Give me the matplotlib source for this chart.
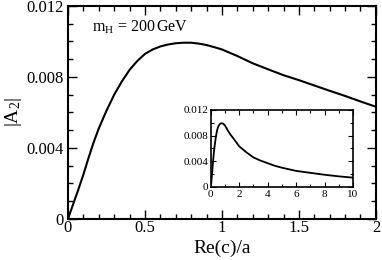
import matplotlib
matplotlib.use("Agg")
import matplotlib.pyplot as plt
from matplotlib.ticker import MultipleLocator

plt.rcParams['font.family'] = ['Liberation Serif', 'DejaVu Serif']
plt.rcParams['mathtext.fontset'] = 'custom'
plt.rcParams['mathtext.rm'] = 'Liberation Serif'
plt.rcParams['mathtext.it'] = 'Liberation Serif:italic'

x = [0, 0.033, 0.067, 0.1, 0.132, 0.166, 0.2, 0.25, 0.3, 0.35, 0.4, 0.45, 0.5, 0.55,
     0.6, 0.65, 0.7, 0.75, 0.8, 0.85, 0.9, 0.95, 1.0, 1.1, 1.2, 1.3,
     1.4, 1.5, 1.6, 1.7, 1.8, 1.9, 2.0, 2.5, 3, 3.5, 4, 4.5, 5, 6, 7, 8, 9, 10]
y = [0, 0.00082, 0.00165, 0.0025, 0.0034, 0.0043, 0.0051, 0.0061, 0.0070, 0.00775,
     0.0084, 0.0089, 0.0093, 0.00955, 0.00972, 0.00983, 0.0099, 0.00993, 0.00993,
     0.00988, 0.0098, 0.00968, 0.00955, 0.00918, 0.00877, 0.00843, 0.0081, 0.00782,
     0.00752, 0.00722, 0.00693, 0.00662, 0.00632, 0.0054, 0.0046, 0.0041, 0.0037,
     0.0033, 0.0030, 0.0025, 0.0022, 0.0019, 0.00165, 0.00145]

fig = plt.figure(figsize=(3.82, 2.6), dpi=100)
ax = fig.add_axes([0.178, 0.158, 0.806, 0.819])
ax.plot(x, y, color='black', lw=1.5)
ax.set_xlim(0, 2)
ax.set_ylim(0, 0.012)
ax.xaxis.set_minor_locator(MultipleLocator(0.1))
ax.yaxis.set_minor_locator(MultipleLocator(0.001))
ax.set_xticks([0, 0.5, 1, 1.5, 2])
ax.set_xticklabels(['0', '0.5', '1', '1.5', '2'])
ax.set_yticks([0, 0.004, 0.008, 0.012])
ax.set_yticklabels(['0', '0.004', '0.008', '0.012'])
ax.tick_params(which='both', direction='in', top=True, right=True, labelsize=12, width=1.0)
ax.tick_params(which='major', length=6.5)
ax.tick_params(which='minor', length=3.5)
ax.tick_params(axis='x', pad=1)
ax.tick_params(axis='y', pad=3)
for s in ax.spines.values():
    s.set_linewidth(1.5)
ax.set_xlabel('Re(c)/a', fontsize=14, labelpad=2.5)
ax.set_ylabel(r'$|\mathrm{A}_2|$', fontsize=14, labelpad=2)
ax.text(0.156, 0.0108, r'$\mathrm{m}_\mathrm{H}$ = 200$\,$GeV', fontsize=11.5, va='center', ha='left')

ins = fig.add_axes([0.552, 0.281, 0.372, 0.296])
ins.plot(x, y, color='black', lw=1.3)
ins.set_xlim(0, 10)
ins.set_ylim(0, 0.012)
ins.xaxis.set_minor_locator(MultipleLocator(1))
ins.yaxis.set_minor_locator(MultipleLocator(0.002))
ins.set_xticks([0, 2, 4, 6, 8, 10])
ins.set_xticklabels(['0', '2', '4', '6', '8', '10'])
ins.set_yticks([0, 0.004, 0.008, 0.012])
ins.set_yticklabels(['0', '0.004', '0.008', '0.012'])
ins.tick_params(which='both', direction='in', top=True, right=True, labelsize=8, width=0.8, pad=2)
ins.tick_params(which='major', length=3.5)
ins.tick_params(which='minor', length=2)
for s in ins.spines.values():
    s.set_linewidth(1.2)

fig.savefig('out.png', dpi=100)
